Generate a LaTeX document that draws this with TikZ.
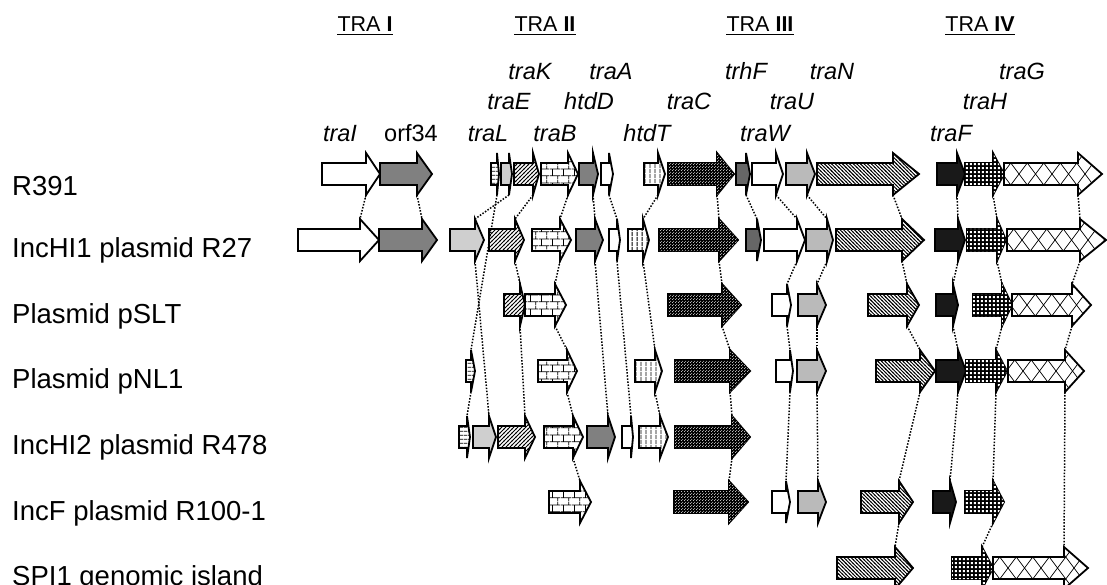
\documentclass[tikz,border=0pt]{standalone}
\usepackage{fontspec}
\setmainfont{Liberation Sans}
\usetikzlibrary{patterns}

\pgfdeclarepatternformonly{phl}{\pgfpoint{0pt}{0pt}}{\pgfpoint{4pt}{4pt}}{\pgfpoint{4pt}{4pt}}{%
  \pgfsetlinewidth{0.9pt}%
  \pgfpathmoveto{\pgfpoint{0pt}{2pt}}\pgfpathlineto{\pgfpoint{4pt}{2pt}}\pgfusepath{stroke}}
\pgfdeclarepatternformonly{pvl}{\pgfpoint{0pt}{0pt}}{\pgfpoint{4.5pt}{4.5pt}}{\pgfpoint{4.5pt}{4.5pt}}{%
  \pgfsetlinewidth{0.9pt}%
  \pgfpathmoveto{\pgfpoint{2.25pt}{0pt}}\pgfpathlineto{\pgfpoint{2.25pt}{4.5pt}}\pgfusepath{stroke}}
\pgfdeclarepatternformonly{pne}{\pgfpoint{-1pt}{-1pt}}{\pgfpoint{5pt}{5pt}}{\pgfpoint{4pt}{4pt}}{%
  \pgfsetlinewidth{0.9pt}%
  \pgfpathmoveto{\pgfpoint{-0.5pt}{-0.5pt}}\pgfpathlineto{\pgfpoint{4.5pt}{4.5pt}}\pgfusepath{stroke}}
\pgfdeclarepatternformonly{pnw}{\pgfpoint{-1pt}{-1pt}}{\pgfpoint{5pt}{5pt}}{\pgfpoint{3.6pt}{3.6pt}}{%
  \pgfsetlinewidth{0.9pt}%
  \pgfpathmoveto{\pgfpoint{-0.5pt}{4.1pt}}\pgfpathlineto{\pgfpoint{4.1pt}{-0.5pt}}\pgfusepath{stroke}}
\pgfdeclarepatternformonly{pbrick}{\pgfpoint{0pt}{0pt}}{\pgfpoint{11pt}{14pt}}{\pgfpoint{11pt}{14pt}}{%
  \pgfsetlinewidth{0.8pt}%
  \pgfpathmoveto{\pgfpoint{0pt}{3.5pt}}\pgfpathlineto{\pgfpoint{11pt}{3.5pt}}%
  \pgfpathmoveto{\pgfpoint{0pt}{10.5pt}}\pgfpathlineto{\pgfpoint{11pt}{10.5pt}}%
  \pgfpathmoveto{\pgfpoint{2.75pt}{3.5pt}}\pgfpathlineto{\pgfpoint{2.75pt}{10.5pt}}%
  \pgfpathmoveto{\pgfpoint{8.25pt}{10.5pt}}\pgfpathlineto{\pgfpoint{8.25pt}{14pt}}%
  \pgfpathmoveto{\pgfpoint{8.25pt}{0pt}}\pgfpathlineto{\pgfpoint{8.25pt}{3.5pt}}%
  \pgfusepath{stroke}}
\pgfdeclarepatternformonly{pdots}{\pgfpoint{0pt}{0pt}}{\pgfpoint{3pt}{3pt}}{\pgfpoint{3pt}{3pt}}{%
  \pgfpathcircle{\pgfpoint{0.75pt}{0.75pt}}{0.62pt}%
  \pgfpathcircle{\pgfpoint{2.25pt}{2.25pt}}{0.62pt}%
  \pgfusepath{fill}}
\pgfdeclarepatternformonly{pgrid}{\pgfpoint{0pt}{0pt}}{\pgfpoint{3.8pt}{3.8pt}}{\pgfpoint{3.8pt}{3.8pt}}{%
  \pgfpathrectangle{\pgfpoint{0.8pt}{0.8pt}}{\pgfpoint{2.2pt}{2.2pt}}%
  \pgfusepath{fill}}

\newcommand\genearrow[6]{%
  \path[gene,#6] (#2,#5-11) -- (#3,#5-11) -- (#3,#5-21) -- (#4,#5) -- (#3,#5+21) -- (#3,#5+11) -- (#2,#5+11) -- cycle;
  \coordinate (#1-t) at (#3,#5-21);
  \coordinate (#1-b) at (#3,#5+21);
}

\begin{document}
\begin{tikzpicture}[x=1pt,y=-1pt,
  gene/.style={draw=black, line width=1.8pt, line join=miter},
  gwhite/.style={fill=white},
  glight/.style={fill=black!19},
  gmid/.style={fill=black!27},
  ggray/.style={fill=black!50},
  gdark/.style={fill=black!60},
  gblack/.style={fill=black!90},
  ghl/.style={fill=white, postaction={pattern=phl}},
  gvl/.style={fill=white, postaction={pattern=pvl}},
  gne/.style={fill=white, postaction={pattern=pne}},
  gnw/.style={fill=white, postaction={pattern=pnw}},
  gbrick/.style={fill=white, postaction={pattern=pbrick}},
  gdots/.style={fill=black, postaction={pattern=pdots, pattern color=white}},
  ggrid/.style={fill=black, postaction={pattern=pgrid, pattern color=white}},
  gdiam/.style={fill=white, path picture={
     \foreach \k in {-1,...,7}{
       \draw[line width=0.7pt] ([xshift={\k*16.5pt-1.5pt}]path picture bounding box.west) ++(-16.5pt,-22pt) -- ++(33pt,44pt);
       \draw[line width=0.7pt] ([xshift={\k*16.5pt-1.5pt}]path picture bounding box.west) ++(-16.5pt,22pt) -- ++(33pt,-44pt);
     }}},
  rowlab/.style={anchor=base west, inner sep=0pt, font=\fontsize{27.5}{30}\selectfont},
  glab/.style={anchor=base, inner sep=0pt, font=\fontsize{23.5}{26}\selectfont\itshape},
  tra/.style={anchor=base, inner sep=0pt, font=\fontsize{21.5}{24}\selectfont},
  link/.style={line width=1.5pt, dash pattern=on 1.5pt off 1.6pt},
  uline/.style={line width=1.1pt}
]
\useasboundingbox (0,0) rectangle (1107,585);

% headers
\node[tra] (h1) at (365,31.5) {TRA \textbf{I}};
\node[tra] (h2) at (545,31.5) {TRA \textbf{II}};
\node[tra] (h3) at (760,31.5) {TRA \textbf{III}};
\node[tra] (h4) at (980,31.5) {TRA \textbf{IV}};
\foreach \h in {h1,h2,h3,h4}
  \draw[uline] ([yshift=-2.6pt]\h.base west) -- ([yshift=-2.6pt]\h.base east);

% gene labels
\node[glab] (ntraK) at (530,80) {traK};
\node[glab] (ntraA) at (611,80) {traA};
\node[glab] (ntrhF) at (746,80) {trhF};
\node[glab] (ntraN) at (832,80) {traN};
\node[glab] (ntraG) at (1022,80) {traG};
\node[glab] (ntraE) at (509,110) {traE};
\node[glab] (nhtdD) at (589,110) {htdD};
\node[glab] (ntraC) at (689,110) {traC};
\node[glab] (ntraU) at (792,110) {traU};
\node[glab] (ntraH) at (985,110) {traH};
\node[glab] (ntraI) at (340,142) {traI};
\node[glab, font=\fontsize{23.5}{26}\selectfont] (norf) at (411,142) {orf34};
\node[glab] (ntraL) at (488,142) {traL};
\node[glab] (ntraB) at (555,142) {traB};
\node[glab] (nhtdT) at (647,142) {htdT};
\node[glab] (ntraW) at (765,142) {traW};
\node[glab] (ntraF) at (951,142) {traF};

% row labels
\node[rowlab] (r1) at (12,196) {R391};
\node[rowlab] (r2) at (12,257) {IncHI1 plasmid R27};
\node[rowlab] (r3) at (12,323) {Plasmid pSLT};
\node[rowlab] (r4) at (12,388.5) {Plasmid pNL1};
\node[rowlab] (r5) at (12,454) {IncHI2 plasmid R478};
\node[rowlab] (r6) at (12,520) {IncF plasmid R100-1};
\node[rowlab] (r7) at (12,585.5) {SPI1 genomic island};

% row a: R391
\genearrow{a-traI}{322}{366}{380}{174}{gwhite}
\genearrow{a-orf34}{380}{417}{432}{174}{ggray}
\genearrow{a-traL}{491}{497}{499}{174}{ghl}
\genearrow{a-traE}{501}{509}{512}{174}{glight}
\genearrow{a-traK}{514}{533}{539}{174}{gne}
\genearrow{a-traB}{541}{568}{578}{174}{gbrick}
\genearrow{a-htdD}{579}{593}{598}{174}{ggray}
\genearrow{a-traA}{601}{609}{613}{174}{gwhite}
\genearrow{a-htdT}{644}{658}{665}{174}{gvl}
\genearrow{a-traC}{668}{717}{734}{174}{gdots}
\genearrow{a-trhF}{736}{746}{750}{174}{gdark}
\genearrow{a-traW}{752}{776}{783}{174}{gwhite}
\genearrow{a-traU}{786}{807}{815}{174}{gmid}
\genearrow{a-traN}{817}{893}{919}{174}{gnw}
\genearrow{a-traF}{937}{957}{965}{174}{gblack}
\genearrow{a-traH}{965}{993}{1004}{174}{ggrid}
\genearrow{a-traG}{1004}{1078}{1102}{174}{gdiam}

% row b: R27
\genearrow{b-traI}{298}{360}{379}{240}{gwhite}
\genearrow{b-orf34}{379}{422}{437}{240}{ggray}
\genearrow{b-traE}{450}{475}{484}{240}{glight}
\genearrow{b-traK}{489}{515}{524}{240}{gne}
\genearrow{b-traB}{532}{560}{571}{240}{gbrick}
\genearrow{b-htdD}{576}{595}{603}{240}{ggray}
\genearrow{b-traA}{609}{617}{620}{240}{gwhite}
\genearrow{b-htdT}{628}{643}{649}{240}{gvl}
\genearrow{b-traC}{659}{719}{738}{240}{gdots}
\genearrow{b-trhF}{746}{757}{761}{240}{gdark}
\genearrow{b-traW}{764}{797}{805}{240}{gwhite}
\genearrow{b-traU}{806}{827}{833}{240}{gmid}
\genearrow{b-traN}{836}{902}{924}{240}{gnw}
\genearrow{b-traF}{935}{958}{965}{240}{gblack}
\genearrow{b-traH}{967}{997}{1006}{240}{ggrid}
\genearrow{b-traG}{1007}{1080}{1106}{240}{gdiam}

% row c: pSLT
\genearrow{c-traK}{504}{520}{525}{305}{gne}
\genearrow{c-traB}{525}{555}{566}{305}{gbrick}
\genearrow{c-traC}{668}{722}{741}{305}{gdots}
\genearrow{c-traW}{772}{787}{791}{305}{gwhite}
\genearrow{c-traU}{798}{817}{826}{305}{gmid}
\genearrow{c-traN}{868}{907}{919}{305}{gnw}
\genearrow{c-traF}{936}{953}{958}{305}{gblack}
\genearrow{c-traH}{973}{1002}{1012}{305}{ggrid}
\genearrow{c-traG}{1012}{1072}{1091}{305}{gdiam}

% row d: pNL1
\genearrow{d-traL}{466}{471}{475}{371}{ghl}
\genearrow{d-traB}{538}{567}{577}{371}{gbrick}
\genearrow{d-htdT}{635}{655}{662}{371}{gvl}
\genearrow{d-traC}{675}{730}{750}{371}{gdots}
\genearrow{d-traW}{776}{790}{793}{371}{gwhite}
\genearrow{d-traU}{797}{817}{826}{371}{gmid}
\genearrow{d-traN}{876}{920}{935}{371}{gnw}
\genearrow{d-traF}{936}{958}{966}{371}{gblack}
\genearrow{d-traH}{966}{996}{1007}{371}{ggrid}
\genearrow{d-traG}{1008}{1065}{1084}{371}{gdiam}

% row e: R478
\genearrow{e-traL}{459}{467}{470}{437}{ghl}
\genearrow{e-traE}{473}{489}{496}{437}{glight}
\genearrow{e-traK}{498}{525}{535}{437}{gne}
\genearrow{e-traB}{544}{573}{583}{437}{gbrick}
\genearrow{e-htdD}{587}{608}{615}{437}{ggray}
\genearrow{e-traA}{622}{631}{633}{437}{gwhite}
\genearrow{e-htdT}{639}{660}{668}{437}{gvl}
\genearrow{e-traC}{675}{732}{750}{437}{gdots}

% row f: R100-1
\genearrow{f-traB}{549}{580}{591}{502}{gbrick}
\genearrow{f-traC}{674}{729}{748}{502}{gdots}
\genearrow{f-traW}{772}{786}{790}{502}{gwhite}
\genearrow{f-traU}{798}{818}{826}{502}{gmid}
\genearrow{f-traN}{861}{899}{913}{502}{gnw}
\genearrow{f-traF}{933}{950}{956}{502}{gblack}
\genearrow{f-traH}{965}{993}{1004}{502}{ggrid}

% row g: SPI1
\genearrow{g-traN}{837}{895}{913}{568}{gnw}
\genearrow{g-traH}{952}{982}{993}{568}{ggrid}
\genearrow{g-traG}{993}{1064}{1088}{568}{gdiam}

% connectors
\foreach \u/\v in {a-traI/b-traI, a-orf34/b-orf34,
  a-traL/d-traL, d-traL/e-traL,
  a-traE/b-traE, b-traE/e-traE,
  a-traK/b-traK, b-traK/c-traK, c-traK/e-traK,
  a-traB/b-traB, b-traB/c-traB, c-traB/d-traB, d-traB/e-traB, e-traB/f-traB,
  a-htdD/b-htdD, b-htdD/e-htdD,
  a-traA/b-traA, b-traA/e-traA,
  a-htdT/b-htdT, b-htdT/d-htdT, d-htdT/e-htdT,
  a-traC/b-traC, b-traC/c-traC, c-traC/d-traC, d-traC/e-traC, e-traC/f-traC,
  a-trhF/b-trhF,
  a-traW/b-traW, b-traW/c-traW, c-traW/d-traW, d-traW/f-traW,
  a-traU/b-traU, b-traU/c-traU, c-traU/d-traU, d-traU/f-traU,
  a-traN/b-traN, b-traN/c-traN, c-traN/d-traN, d-traN/f-traN, f-traN/g-traN,
  a-traF/b-traF, b-traF/c-traF, c-traF/d-traF, d-traF/f-traF,
  a-traH/b-traH, b-traH/c-traH, c-traH/d-traH, d-traH/f-traH, f-traH/g-traH,
  a-traG/b-traG, b-traG/c-traG, c-traG/d-traG, d-traG/g-traG}
  \draw[link] (\u-b) -- (\v-t);
\end{tikzpicture}
\end{document}
